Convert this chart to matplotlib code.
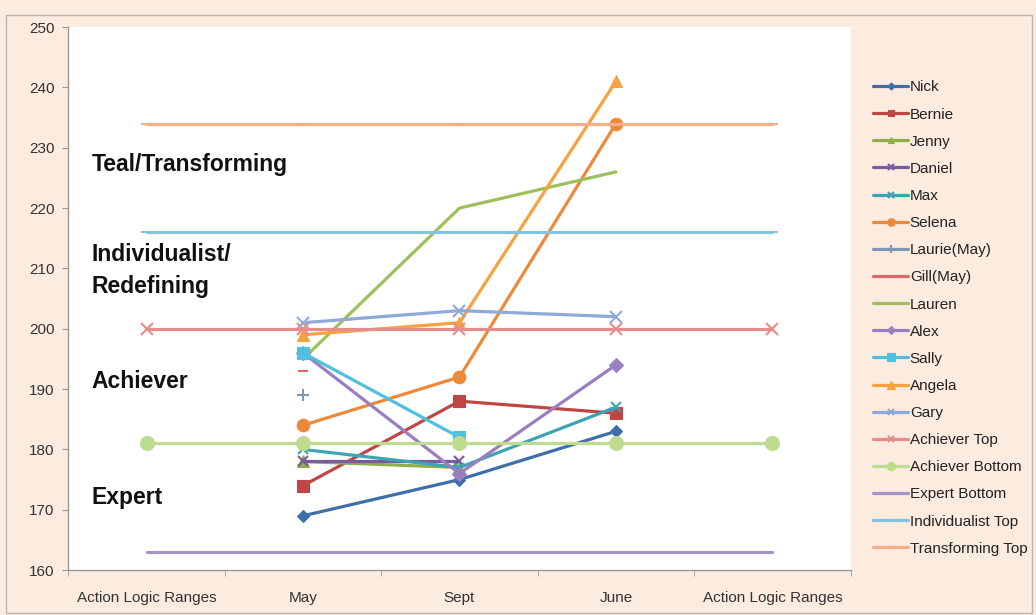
import numpy as np
import matplotlib.pyplot as plt
from matplotlib.patches import Rectangle

plt.rcParams['font.family'] = ['Liberation Sans', 'DejaVu Sans']

categories = ["Action Logic Ranges", "May", "Sept", "June", "Action Logic Ranges"]
nan = np.nan

nick = [nan, 169, 175, 183, nan]
bernie = [nan, 174, 188, 186, nan]
jenny = [nan, 178, 177, nan, nan]
daniel = [nan, 178, 178, nan, nan]
max_ = [nan, 180, 177, 187, nan]
selena = [nan, 184, 192, 234, nan]
laurie_may = [nan, 189, nan, nan, nan]
gill_may = [nan, 193, nan, nan, nan]
lauren = [nan, 195, 220, 226, nan]
alex = [nan, 196, 176, 194, nan]
sally = [nan, 196, 182, nan, nan]
angela = [nan, 199, 201, 241, nan]
gary = [nan, 201, 203, 202, nan]
achiever_top = [200, 200, 200, 200, 200]
achiever_bottom = [181, 181, 181, 181, 181]
expert_bottom = [163, 163, 163, 163, 163]
individualist_top = [216, 216, 216, 216, 216]
transforming_top = [234, 234, 234, 234, 234]

series = [
    ("Nick", nick, '#3F6FA8', 'D', 6),
    ("Bernie", bernie, '#BE4744', 's', 8),
    ("Jenny", jenny, '#8DB04A', '^', 8),
    ("Daniel", daniel, '#7A5B9E', 'x', 7),
    ("Max", max_, '#3EA3B5', 'x', 7),
    ("Selena", selena, '#EC8A3A', 'o', 9),
    ("Laurie(May)", laurie_may, '#7F98B8', '+', 9),
    ("Gill(May)", gill_may, '#D86A6A', '_', 7),
    ("Lauren", lauren, '#9DC05C', None, 0),
    ("Alex", alex, '#9A7EC2', 'D', 7),
    ("Sally", sally, '#4FC0E0', 's', 9),
    ("Angela", angela, '#F6A23E', '^', 9),
    ("Gary", gary, '#8FA9D8', 'x', 8),
    ("Achiever Top", achiever_top, '#E58C8C', 'x', 8),
    ("Achiever Bottom", achiever_bottom, '#BEDB90', 'o', 10),
    ("Expert Bottom", expert_bottom, '#A594C8', None, 0),
    ("Individualist Top", individualist_top, '#82C3DF', '_', 8),
    ("Transforming Top", transforming_top, '#F4AF86', '_', 8),
]

fig = plt.figure(figsize=(10.36, 6.15), dpi=100)
fig.patch.set_facecolor('#FCEBDF')
fig.patches.append(Rectangle((0.006, 0.004), 0.99, 0.972, transform=fig.transFigure,
                             fill=False, edgecolor='#BDB5AF', linewidth=1.0))
ax = fig.add_axes([0.066, 0.073, 0.755, 0.883])
ax.set_facecolor('white')

x = np.arange(len(categories))
for name, vals, color, marker, ms in series:
    ax.plot(x, vals, color=color, linewidth=2.3, marker=marker, markersize=ms,
            markeredgewidth=1.5 if marker in ('x', '+', '_') else 0.8,
            markeredgecolor=color, markerfacecolor=color, label=name,
            solid_capstyle='round')

ax.set_xlim(-0.5, 4.5)
ax.set_ylim(160, 250)
ax.set_yticks(np.arange(160, 251, 10))
ax.set_xticks(x)
ax.set_xticklabels(categories)
ax.set_xticks(np.arange(-0.5, 4.6, 1), minor=True)
ax.tick_params(axis='x', which='major', length=0, labelsize=11, pad=15, colors='#333333')
ax.tick_params(axis='x', which='minor', length=4, color='#999999')
ax.tick_params(axis='y', length=4, color='#999999', labelsize=11, colors='#333333', pad=6)
for s in ('top', 'right'):
    ax.spines[s].set_visible(False)
for s in ('left', 'bottom'):
    ax.spines[s].set_color('#999999')
    ax.spines[s].set_linewidth(1.0)

tkw = dict(fontsize=16.5, fontweight='bold', color='#111111', ha='left', va='center')
ax.text(-0.35, 227.2, "Teal/Transforming", **tkw)
ax.text(-0.35, 212.3, "Individualist/", **tkw)
ax.text(-0.35, 207.0, "Redefining", **tkw)
ax.text(-0.35, 191.3, "Achiever", **tkw)
ax.text(-0.35, 172.0, "Expert", **tkw)

leg = ax.legend(loc='upper left', bbox_to_anchor=(1.021, 0.913), frameon=False,
                fontsize=11, handlelength=2.3, labelspacing=0.86, handletextpad=0.1,
                borderaxespad=0, markerscale=0.6)
for t in leg.get_texts():
    t.set_color('#222222')

fig.savefig('out.png', dpi=100, facecolor=fig.get_facecolor())
